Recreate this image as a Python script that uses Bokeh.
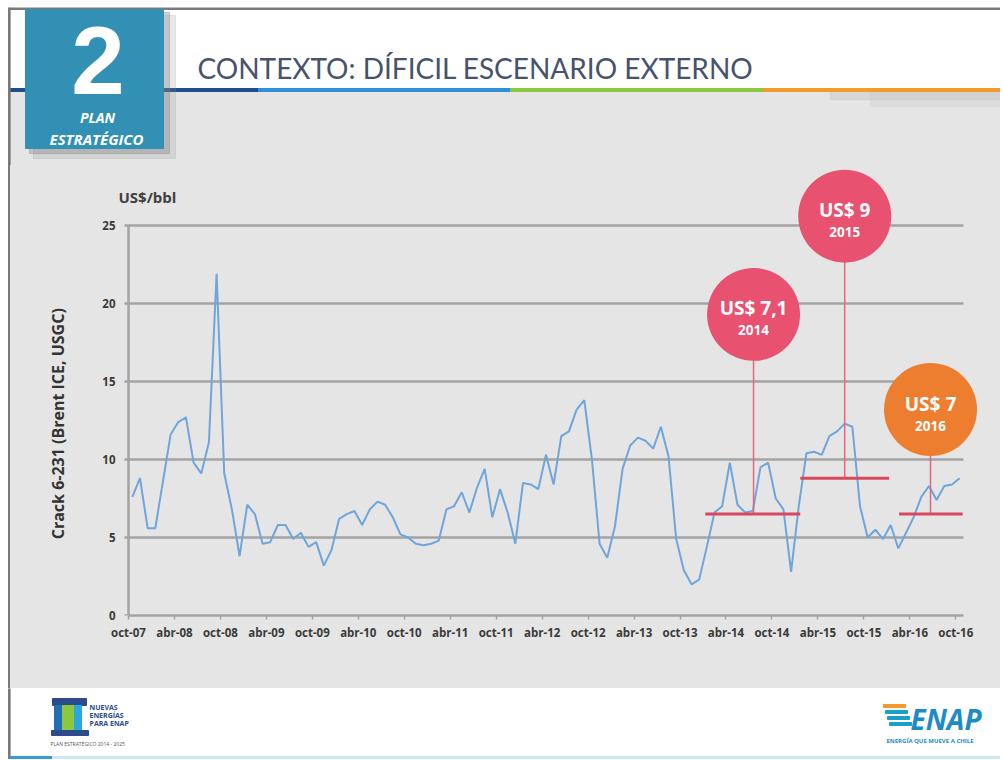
from bokeh.plotting import figure
from bokeh.layouts import column
from bokeh.models import FixedTicker, Label, ColumnDataSource
from bokeh.core.properties import value
from bokeh.embed import file_html
from bokeh.resources import INLINE

# ---------------- data ----------------
crack = [7.6, 8.8, 5.6, 5.6, 8.6, 11.6, 12.4, 12.7, 9.8, 9.1,
         11.1, 21.9, 9.1, 6.8, 3.8, 7.1, 6.5, 4.6, 4.7, 5.8,
         5.8, 4.9, 5.3, 4.4, 4.7, 3.2, 4.2, 6.2, 6.5, 6.7,
         5.8, 6.8, 7.3, 7.1, 6.3, 5.2, 5.0, 4.6, 4.5, 4.6,
         4.8, 6.8, 7.0, 7.9, 6.6, 8.2, 9.4, 6.3, 8.1, 6.6,
         4.6, 8.5, 8.4, 8.1, 10.3, 8.4, 11.5, 11.8, 13.2, 13.8,
         10.0, 4.6, 3.7, 5.7, 9.4, 10.9, 11.4, 11.2, 10.7, 12.1,
         10.2, 4.9, 2.9, 2.0, 2.3, 4.4, 6.6, 7.0, 9.8, 7.1,
         6.6, 6.7, 9.5, 9.8, 7.5, 6.8, 2.8, 7.0, 10.4, 10.5,
         10.3, 11.5, 11.8, 12.3, 12.1, 7.0, 5.0, 5.5, 4.9, 5.8,
         4.3, 5.3, 6.3, 7.6, 8.3, 7.4, 8.3, 8.4, 8.8]
months = list(range(len(crack)))

x_tick_labels = ["oct-07", "abr-08", "oct-08", "abr-09", "oct-09", "abr-10",
                 "oct-10", "abr-11", "oct-11", "abr-12", "oct-12", "abr-13",
                 "oct-13", "abr-14", "oct-14", "abr-15", "oct-15", "abr-16",
                 "oct-16"]
y_ticks = [0, 5, 10, 15, 20, 25]

ann_labels = ["US$ 7,1", "US$ 9", "US$ 7"]
ann_years = ["2014", "2015", "2016"]
ann_level = [6.5, 8.8, 6.5]
ann_start = [74.8, 87.2, 100.1]
ann_end = [87.2, 98.8, 108.4]
ann_x = [81.1, 93.0, 104.2]
ann_cy = [19.3, 25.6, 13.2]
ann_colors = ["#E8516F", "#E8516F", "#EE7E2F"]

title_text = "CONTEXTO: DÍFICIL ESCENARIO EXTERNO"
y_title = "Crack 6-231 (Brent ICE, USGC)"
unit_text = "US$/bbl"

# ---------------- layout constants ----------------
W = 1000
H_HEAD = 165
H_CHART = 523
H_FOOT = 71
BG = "#E5E5E5"
BORDER = "#7A7A7A"
GRID = "#A3A3A3"
FONT = "Open Sans"

# ---------------- header ----------------
h = figure(width=W, height=H_HEAD, x_range=(0, W), y_range=(H_HEAD, 0),
           output_backend="svg", toolbar_location=None,
           x_axis_location=None, y_axis_location=None,
           min_border=0, outline_line_color=None, frame_align=False,
           background_fill_color="white", border_fill_color="white")
h.grid.visible = False
h.quad(left=[9], right=[W], top=[91], bottom=[H_HEAD], color=BG)
# soft shadow under the header line at right
h.quad(left=[830], right=[W], top=[91], bottom=[99], color="#BDBDBD", alpha=0.35)
h.quad(left=[870], right=[W], top=[91], bottom=[106], color="#C8C8C8", alpha=0.3)
# coloured header line
h.quad(left=[9, 258, 510, 763], right=[258, 510, 763, W],
       top=[88, 88, 88, 88], bottom=[91, 91, 91, 91],
       color=["#1F4E8C", "#2E90D8", "#8DC63F", "#F49A2A"])
# top / left slide border
h.quad(left=[8], right=[W], top=[7.5], bottom=[9], color=BORDER)
h.quad(left=[8], right=[9.6], top=[7.5], bottom=[H_HEAD], color=BORDER)
# blue box with shadow
h.quad(left=[33], right=[175], top=[15], bottom=[158], color="#8C8C8C", alpha=0.2)
h.quad(left=[29], right=[169], top=[12], bottom=[153], color="#7F7F7F", alpha=0.35)
h.quad(left=[25], right=[163], top=[9], bottom=[148], color="#3190B4")
h.text(x=[97.5], y=[60], text=["2"], text_align="center", text_baseline="middle",
       text_font=value("Liberation Sans"), text_font_size="96px",
       text_font_style="bold", text_color="white")
h.text(x=[97], y=[117], text=["PLAN"], text_align="center", text_baseline="middle",
       text_font=value(FONT), text_font_size="14px", text_font_style="bold italic",
       text_color="white")
h.text(x=[96], y=[138], text=["ESTRATÉGICO"], text_align="center",
       text_baseline="middle", text_font=value(FONT), text_font_size="15px",
       text_font_style="bold italic", text_color="white")
h.text(x=[197], y=[67.5], text=[title_text], text_align="left", text_baseline="middle",
       text_font=value("Lato"), text_font_size="28px", text_color="#46526E")

# ---------------- chart ----------------
PX_M = 7.66
PX_Y = 15.6
LEFT = 118          # frame starts 10 px left of the value axis line
BOTTOM = 73
frame_w = W - LEFT
frame_h = H_CHART - BOTTOM
ax0 = -0.5                     # position of the value axis line (month units)
x0 = ax0 - 10 / PX_M
x1 = x0 + frame_w / PX_M
y1 = frame_h / PX_Y
last = len(crack) - 0.5

p = figure(width=W, height=H_CHART, x_range=(x0, x1), y_range=(0, y1),
           output_backend="svg", toolbar_location=None,
           min_border_left=LEFT, min_border_right=0, min_border_top=0,
           min_border_bottom=BOTTOM, outline_line_color=None, frame_align=False,
           background_fill_color=BG, border_fill_color=None)
p.styles = {"background": "linear-gradient(to right, white 0px, white 8px, "
                          f"{BORDER} 8px, {BORDER} 9.6px, {BG} 9.6px)"}
p.xgrid.visible = False
p.ygrid.visible = False

xt = [6 * k - 0.5 for k in range(len(x_tick_labels))]
p.xaxis.ticker = FixedTicker(ticks=xt)
p.xaxis.major_label_overrides = {t: lab for t, lab in zip(xt, x_tick_labels)}
p.xaxis.bounds = (ax0, last)
p.yaxis.ticker = FixedTicker(ticks=y_ticks)
p.yaxis.bounds = (0, 25)
for ax in (p.xaxis[0], p.yaxis[0]):
    ax.axis_line_color = GRID
    ax.axis_line_width = 2.5
    ax.major_tick_line_color = GRID
    ax.major_tick_line_width = 1.5
    ax.major_tick_out = 4
    ax.major_tick_in = 0
    ax.minor_tick_line_color = None
    ax.major_label_text_font = FONT
    ax.major_label_text_font_size = "11.5px"
    ax.major_label_text_font_style = "bold"
    ax.major_label_text_color = "#3A3A3A"
p.xaxis.major_label_standoff = 5
# value axis: its labels sit at the frame edge, its line is drawn at ax0
p.yaxis.axis_line_color = None
p.yaxis.major_tick_line_color = None
p.yaxis.major_tick_out = 0
p.yaxis.major_label_standoff = 3
p.yaxis.axis_label = y_title + "\u00a0" * 16
p.yaxis.axis_label_text_font = FONT
p.yaxis.axis_label_text_font_size = "16px"
p.yaxis.axis_label_text_font_style = "bold"
p.yaxis.axis_label_text_color = "#333333"
p.yaxis.axis_label_standoff = 30

# horizontal grid lines (with small stubs left of the axis) and value-axis line
gy = [v for v in y_ticks if v > 0]
p.segment(x0=[ax0 - 4 / PX_M] * len(gy), x1=[last] * len(gy), y0=gy, y1=gy,
          line_color=GRID, line_width=2.5)
p.segment(x0=[ax0], x1=[ax0], y0=[y_ticks[0]], y1=[y_ticks[-1]],
          line_color=GRID, line_width=2.5)
p.segment(x0=[ax0 - 4 / PX_M], x1=[ax0], y0=[0], y1=[0], line_color=GRID,
          line_width=2.5)

p.line(months, crack, line_color="#6EA6DC", line_width=2)

src = ColumnDataSource(dict(x=ann_x, cy=ann_cy, lvl=ann_level, s=ann_start, e=ann_end,
                            lab=ann_labels, yr=ann_years, c=ann_colors))
p.segment(x0="x", x1="x", y0="lvl", y1="cy", source=src, line_color="#E3687F",
          line_width=1.5)
p.segment(x0="s", x1="e", y0="lvl", y1="lvl", source=src, line_color="#D8475E",
          line_width=3)
p.scatter(x="x", y="cy", source=src, marker="circle", size=93, fill_color="c",
          line_color=None)
p.text(x="x", y="cy", text="lab", source=src, y_offset=-6, text_align="center",
       text_baseline="middle", text_font=value(FONT), text_font_size="19px",
       text_font_style="bold", text_color="white")
p.text(x="x", y="cy", text="yr", source=src, y_offset=16, text_align="center",
       text_baseline="middle", text_font=value(FONT), text_font_size="13.5px",
       text_font_style="bold", text_color="white")

p.add_layout(Label(x=x0, y=26.8, text=unit_text, text_align="left",
                   text_baseline="middle", text_font=FONT, text_font_size="15px",
                   text_font_style="bold", text_color="#404040"))

# ---------------- footer ----------------
f = figure(width=W, height=H_FOOT, x_range=(0, W), y_range=(H_FOOT, 0),
           output_backend="svg", toolbar_location=None,
           x_axis_location=None, y_axis_location=None,
           min_border=0, outline_line_color=None, frame_align=False,
           background_fill_color="white", border_fill_color="white")
f.grid.visible = False
f.quad(left=[8], right=[9.6], top=[0], bottom=[H_FOOT], color=BORDER)
# bottom stripe
f.quad(left=[9.6, 52], right=[52, W], top=[68, 68], bottom=[71, 71],
       color=["#3A9AD9", "#CFE6F3"])
# left logo (simplified)
f.quad(left=[52], right=[86], top=[10], bottom=[17], color="#2B4B8C")
f.quad(left=[54, 62, 74], right=[62, 74, 81], top=[17, 17, 17], bottom=[42, 42, 42],
       color=["#1F6FB2", "#8DC63F", "#29A9E0"])
f.quad(left=[51], right=[88], top=[42], bottom=[47], color="#2B4B8C")
f.text(x=[89, 89, 89], y=[19, 27, 35], text=["NUEVAS", "ENERGÍAS", "PARA ENAP"],
       text_font=value(FONT), text_font_size="7px", text_font_style="bold",
       text_color="#2B4B8C", text_baseline="middle")
f.text(x=[50], y=[55], text=["PLAN ESTRATÉGICO 2014 - 2025"], text_font=value(FONT),
       text_font_size="5px", text_color="#555555", text_baseline="middle")
# right logo (simplified)
f.quad(left=[883, 885, 887, 889], right=[905, 907, 909, 911],
       top=[16, 22, 28, 34], bottom=[19, 25, 31, 37],
       color=["#F39A2B", "#1AA0C8", "#1AA0C8", "#1AA0C8"])
f.text(x=[910], y=[30], text=["ENAP"], text_font=value(FONT), text_font_size="28px",
       text_font_style="bold italic", text_color="#1D8BC8", text_baseline="middle")
f.text(x=[886], y=[52], text=["ENERGÍA QUE MUEVE A CHILE"], text_font=value(FONT),
       text_font_size="6px", text_font_style="bold", text_color="#1D8BC8",
       text_baseline="middle")

layout = column(h, p, f, spacing=0)
open("out.html", "w").write(file_html(layout, INLINE))
